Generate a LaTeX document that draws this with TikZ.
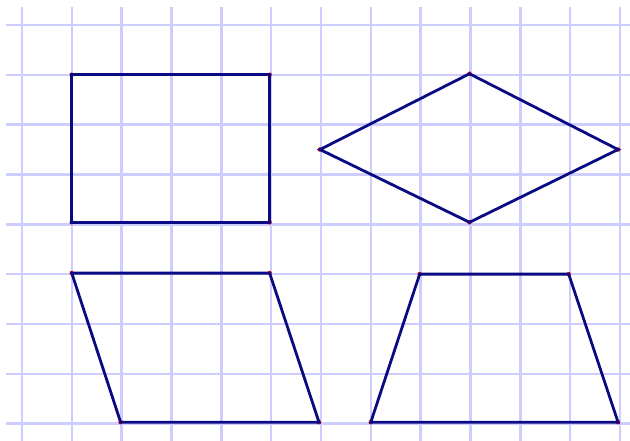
\documentclass[tikz,border=0pt]{standalone}
\usepackage{tikz}
\usetikzlibrary{positioning,calc}
\definecolor{GridBlue}{RGB}{205,205,255}
\definecolor{ShapeNavy}{RGB}{10,10,130}
\tikzset{
  gridline/.style={draw=GridBlue,line width=1.4pt},
  outline/.style={draw=ShapeNavy,line width=1.6pt,line join=miter},
}
\tikzset{vx/.style={circle,fill=red,inner sep=0pt,minimum size=2.6pt}}

\begin{document}
\begin{tikzpicture}[scale=1]
\useasboundingbox (-0.44,-0.34) rectangle (12.2,8.5);
\clip (-0.44,-0.34) rectangle (12.2,8.5);
\foreach \i in {0,...,12} {\draw[gridline] (\i,-0.5)--(\i,8.36);}
\foreach \j in {0,...,8} {\draw[gridline] (-0.32,\j)--(12.4,\j);}
% rectangle
\node[vx](r1) at (1,7){};\node[vx](r2) at (4.97,7){};\node[vx](r3) at (4.97,4.04){};\node[vx](r4) at (1,4.04){};
\draw[outline] (r1.center)--(r2.center)--(r3.center)--(r4.center)--cycle;
% rhombus
\node[vx](h1) at (8.98,7.02){};\node[vx](h2) at (11.96,5.5){};\node[vx](h3) at (8.98,4.04){};\node[vx](h4) at (5.98,5.5){};
\draw[outline] (h1.center)--(h2.center)--(h3.center)--(h4.center)--cycle;
% parallelogram
\node[vx](p1) at (1,3.02){};\node[vx](p2) at (4.97,3.02){};\node[vx](p3) at (5.96,0.03){};\node[vx](p4) at (1.98,0.03){};
\draw[outline] (p1.center)--(p2.center)--(p3.center)--(p4.center)--cycle;
% trapezoid
\node[vx](t1) at (7.98,3.0){};\node[vx](t2) at (10.97,3.0){};\node[vx](t3) at (11.96,0.03){};\node[vx](t4) at (7.0,0.03){};
\draw[outline] (t1.center)--(t2.center)--(t3.center)--(t4.center)--cycle;
\end{tikzpicture}
\end{document}
